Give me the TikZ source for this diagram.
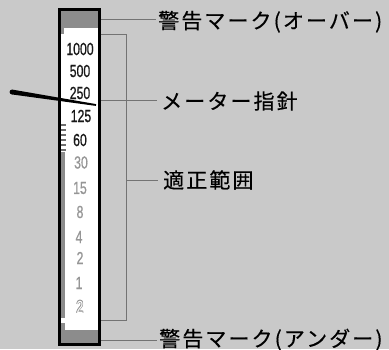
\documentclass[tikz,border=0pt]{standalone}
\usepackage{fontspec}
\usepackage{graphicx}
\newfontfamily\jp[LetterSpace=10,FakeBold=0.4]{Noto Sans CJK JP}
\newfontfamily\numf[FakeBold=0.8]{Liberation Sans}
\newfontfamily\numthin{Liberation Sans}
\definecolor{bggray}{RGB}{201,201,201}
\definecolor{bandgray}{RGB}{140,140,140}
\definecolor{leadgray}{RGB}{115,115,115}
\definecolor{numgray}{RGB}{150,150,150}
\definecolor{tickgray}{RGB}{110,110,110}
\begin{document}
\begin{tikzpicture}[x=1pt,y=-1pt,
  lbl/.style={anchor=base west, inner sep=0pt, font=\jp\fontsize{21}{21}\selectfont},
  lead/.style={draw=leadgray, line width=0.9pt},
  num/.style={inner sep=0pt, font=\numf\fontsize{17.5}{17.5}\selectfont},
  dark/.style={num, text=black!90},
  light/.style={num, text=numgray},
  hollow/.style={inner sep=0pt, font=\numthin\fontsize{17.5}{17.5}\selectfont}]
\useasboundingbox (0,0) rectangle (389,349);
\fill[bggray] (0,0) rectangle (389,349);
% meter body
\fill[white] (59,9.5) rectangle (99,344.5);
\fill[bandgray] (60.5,11) rectangle (97.5,28);
\fill[bandgray] (60.5,28) rectangle (64,34);
\fill[bandgray] (60.5,152) rectangle (64.5,318);
\fill[bandgray] (60.5,323) rectangle (64.5,330);
\fill[bandgray] (60.5,330) rectangle (97.5,343);
\foreach \yy in {125,130,135,140,145,150}
  \draw[tickgray, line width=1.6pt] (60.5,\yy) -- (65.5,\yy);
\draw[line width=3pt] (59,9.5) rectangle (99,344.5);
% scale numbers
\node[dark] (n1000) at (80,49) {\scalebox{0.7}[1]{1000}};
\node[dark] (n500) at (80,71) {\scalebox{0.7}[1]{500}};
\node[dark] (n250) at (80,93) {\scalebox{0.7}[1]{250}};
\node[dark] (n125) at (81,116) {\scalebox{0.7}[1]{125}};
\node[dark] (n60) at (80,140) {\scalebox{0.7}[1]{60}};
\node[light] (n30) at (81,162.5) {\scalebox{0.7}[1]{30}};
\node[light] (n15) at (80,188) {\scalebox{0.7}[1]{15}};
\node[light] (n8) at (80,212) {\scalebox{0.7}[1]{8}};
\node[light] (n4) at (79,237) {\scalebox{0.7}[1]{4}};
\node[light] (n2) at (80,258) {\scalebox{0.7}[1]{2}};
\node[light] (n1) at (79,283) {\scalebox{0.7}[1]{1}};
\foreach \dx/\dy in {0.6/0,-0.6/0,0/0.6,0/-0.6,0.45/0.45,-0.45/0.45,0.45/-0.45,-0.45/-0.45}
  \node[hollow, text=numgray] at (80+\dx,307+\dy) {\scalebox{0.7}[1]{2}};
\node[hollow, text=white] (nh2) at (80,307) {\scalebox{0.7}[1]{2}};
% needle
\fill (12.34,89.6) -- (96.14,104.11) -- (95.86,105.89) -- (11.66,94.4) -- cycle;
\fill (12,92) circle (2.4);
% labels
\node[lbl] (over) at (158,28.5) {警告マーク(オーバー)};
\node[lbl] (needle) at (161,109) {メーター指針};
\node[lbl] (range) at (163,188) {適正範囲};
\node[lbl] (under) at (159,346.5) {警告マーク(アンダー)};
% leaders
\coordinate (f1) at (100.5,19);
\coordinate (e1) at (156,19);
\coordinate (f2) at (100.5,100);
\coordinate (e2) at (157,100);
\coordinate (b1) at (100.5,34);
\coordinate (b2) at (126,34);
\coordinate (b3) at (126,320);
\coordinate (b4) at (100.5,320);
\coordinate (bm) at (126,180);
\coordinate (e3) at (158,180);
\coordinate (f4) at (100.5,340);
\coordinate (e4) at (157,340);
\draw[lead] (f1) -- (e1);
\draw[lead] (f2) -- (e2);
\draw[lead] (b1) -- (b2) -- (b3) -- (b4);
\draw[lead] (bm) -- (e3);
\draw[lead] (f4) -- (e4);
\end{tikzpicture}
\end{document}
